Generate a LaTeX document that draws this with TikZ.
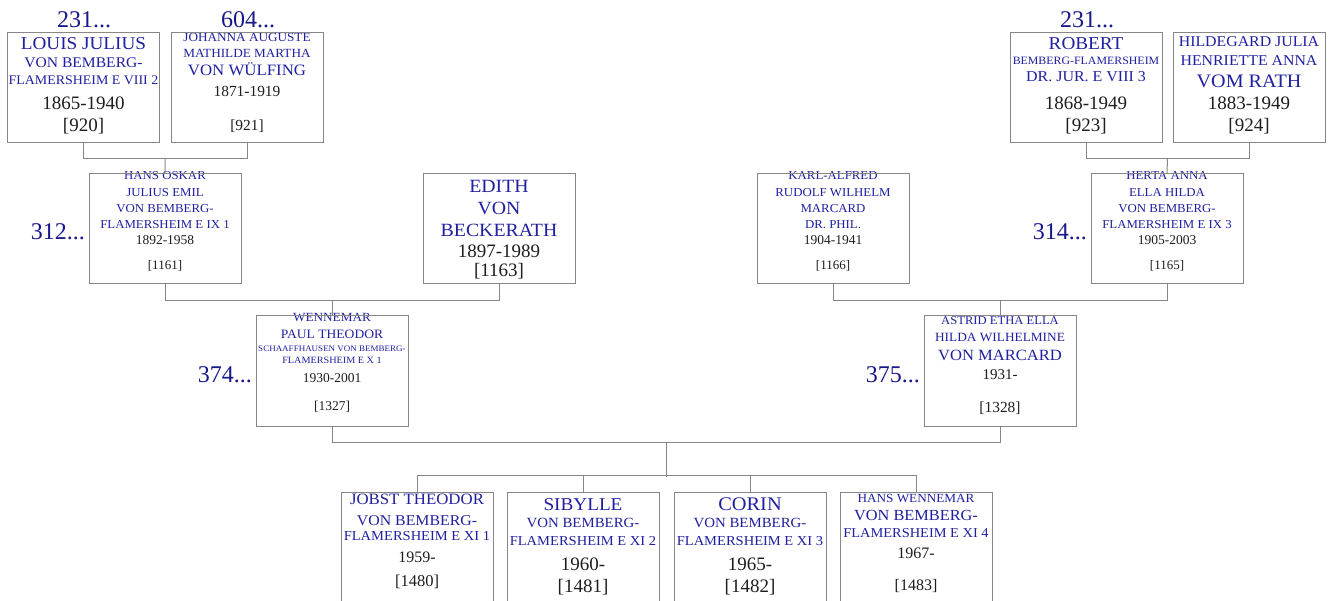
\documentclass[tikz,border=0pt]{standalone}
\usepackage{fontspec}
\usetikzlibrary{calc}
\newfontfamily\capsfont[FakeStretch=1.06,Scale=1.132]{Liberation Serif}
\newfontfamily\numfont{Liberation Serif}
\newcommand\nf[1]{\capsfont\fontsize{#1}{#1}\selectfont}
\newcommand\df[1]{\numfont\fontsize{#1}{#1}\selectfont}
\definecolor{nameblue}{RGB}{32,32,160}
\definecolor{genblue}{RGB}{24,24,140}
\definecolor{datecol}{RGB}{30,30,30}
\definecolor{linegray}{RGB}{135,135,135}
\newcommand\NL[5]{\node[nm,font=\nf{#4}] (#1) at (#2,#3) {#5};}
\newcommand\DL[5]{\node[dt,font=\df{#4}] (#1) at (#2,#3) {#5};}
\begin{document}
\begin{tikzpicture}[x=1pt,y=-1pt,
  box/.style={draw=linegray,line width=1pt,minimum width=152pt,minimum height=110pt,inner sep=0pt},
  conn/.style={draw=linegray,line width=1pt},
  nm/.style={anchor=base,inner sep=0pt,text=nameblue},
  dt/.style={anchor=base,inner sep=0pt,text=datecol},
  gen/.style={anchor=base east,inner sep=0pt,text=genblue,font=\df{24}},
  gentop/.style={anchor=base,inner sep=0pt,text=genblue,font=\df{24}}]
\useasboundingbox[fill=white] (0,0) rectangle (1330,601);

% ---------- texts ----------
% A
\NL{a1}{83.5}{50}{16}{LOUIS JULIUS}
\NL{a2}{83.5}{68}{13}{VON BEMBERG-}
\NL{a3}{83.5}{85}{11.6}{FLAMERSHEIM E VIII 2}
\DL{a4}{83.5}{110}{19}{1865-1940}
\DL{a5}{83.5}{132}{19}{[920]}
% B
\NL{b1}{247}{42}{11}{JOHANNA AUGUSTE}
\NL{b2}{247}{58}{11}{MATHILDE MARTHA}
\NL{b3}{247}{76}{14}{VON WÜLFING}
\DL{b4}{247}{97}{15.4}{1871-1919}
\DL{b5}{247}{131}{15.4}{[921]}
% C
\NL{c1}{1086}{50}{16}{ROBERT}
\NL{c2}{1086}{65}{9.9}{BEMBERG-FLAMERSHEIM}
\NL{c3}{1086}{82}{13.3}{DR. JUR. E VIII 3}
\DL{c4}{1086}{110}{19}{1868-1949}
\DL{c5}{1086}{132}{19}{[923]}
% D
\NL{d1}{1249}{47}{13.2}{HILDEGARD JULIA}
\NL{d2}{1249}{66}{13.2}{HENRIETTE ANNA}
\NL{d3}{1249}{88}{16.8}{VOM RATH}
\DL{d4}{1249}{110}{19}{1883-1949}
\DL{d5}{1249}{132}{19}{[924]}
% Hans
\NL{e1}{165}{180}{10.7}{HANS OSKAR}
\NL{e2}{165}{197}{10.7}{JULIUS EMIL}
\NL{e3}{165}{213}{10.7}{VON BEMBERG-}
\NL{e4}{165}{229}{10.7}{FLAMERSHEIM E IX 1}
\DL{e5}{165}{245}{13.5}{1892-1958}
\DL{e6}{165}{270}{13}{[1161]}
% Edith
\NL{f1}{499}{193}{16.5}{EDITH}
\NL{f2}{499}{215}{16.5}{VON}
\NL{f3}{499}{237}{16.5}{BECKERATH}
\DL{f4}{499}{258}{19}{1897-1989}
\DL{f5}{499}{277}{19}{[1163]}
% Karl
\NL{g1}{833}{180}{10.7}{KARL-ALFRED}
\NL{g2}{833}{197}{10.7}{RUDOLF WILHELM}
\NL{g3}{833}{213}{10.7}{MARCARD}
\NL{g4}{833}{229}{10.7}{DR. PHIL.}
\DL{g5}{833}{245}{13.5}{1904-1941}
\DL{g6}{833}{270}{13}{[1166]}
% Herta
\NL{h1}{1167}{180}{10.7}{HERTA ANNA}
\NL{h2}{1167}{197}{10.7}{ELLA HILDA}
\NL{h3}{1167}{213}{10.7}{VON BEMBERG-}
\NL{h4}{1167}{229}{10.7}{FLAMERSHEIM E IX 3}
\DL{h5}{1167}{245}{13.5}{1905-2003}
\DL{h6}{1167}{270}{13}{[1165]}
% Wennemar
\NL{i1}{332}{322}{11}{WENNEMAR}
\NL{i2}{332}{338}{11.3}{PAUL THEODOR}
\NL{i3}{332}{352}{7.5}{SCHAAFFHAUSEN VON BEMBERG-}
\NL{i4}{332}{363}{8.5}{FLAMERSHEIM E X 1}
\DL{i5}{332}{382}{13.5}{1930-2001}
\DL{i6}{332}{410}{13.5}{[1327]}
% Astrid
\NL{j1}{1000}{325}{10.5}{ASTRID ETHA ELLA}
\NL{j2}{1000}{342}{11.1}{HILDA WILHELMINE}
\NL{j3}{1000}{360}{13.8}{VON MARCARD}
\DL{j4}{1000}{380}{15}{1931-}
\DL{j5}{1000}{412}{15.4}{[1328]}
% Jobst
\NL{k1}{417}{504}{14}{JOBST THEODOR}
\NL{k2}{417}{525}{13.2}{VON BEMBERG-}
\NL{k3}{417}{540}{12.1}{FLAMERSHEIM E XI 1}
\DL{k4}{417}{562}{16}{1959-}
\DL{k5}{417}{586}{16.5}{[1480]}
% Sibylle
\NL{l1}{583}{510}{16}{SIBYLLE}
\NL{l2}{583}{527}{12.4}{VON BEMBERG-}
\NL{l3}{583}{545}{12.1}{FLAMERSHEIM E XI 2}
\DL{l4}{583}{570}{19}{1960-}
\DL{l5}{583}{592}{19}{[1481]}
% Corin
\NL{m1}{750}{510}{17}{CORIN}
\NL{m2}{750}{527}{12.4}{VON BEMBERG-}
\NL{m3}{750}{545}{12.1}{FLAMERSHEIM E XI 3}
\DL{m4}{750}{570}{19}{1965-}
\DL{m5}{750}{592}{19}{[1482]}
% Hans Wennemar
\NL{n1}{916}{502}{11}{HANS WENNEMAR}
\NL{n2}{916}{520}{13.6}{VON BEMBERG-}
\NL{n3}{916}{537}{12}{FLAMERSHEIM E XI 4}
\DL{n4}{916}{558}{16}{1967-}
\DL{n5}{916}{590}{16}{[1483]}

% ---------- generation labels ----------
\node[gentop] (gA) at (84,28) {231...};
\node[gentop] (gB) at (248,28) {604...};
\node[gentop] (gC) at (1087,28) {231...};
\node[gen] (gE) at (85,240) {312...};
\node[gen] (gH) at (1087,240) {314...};
\node[gen] (gI) at (252,382) {374...};
\node[gen] (gJ) at (920,382) {375...};

% ---------- boxes ----------
\node[box] (A) at (83.5,88) {};
\node[box] (B) at (247,88) {};
\node[box] (C) at (1086,88) {};
\node[box] (D) at (1249,88) {};
\node[box] (E) at (165,229) {};
\node[box] (F) at (499,229) {};
\node[box] (G) at (833,229) {};
\node[box] (H) at (1167,229) {};
\node[box] (I) at (332,371) {};
\node[box] (J) at (1000,371) {};
\node[box] (K) at (417,547) {};
\node[box] (L) at (583,547) {};
\node[box] (M) at (750,547) {};
\node[box] (N) at (916,547) {};

% ---------- connectors ----------
\draw[conn] (A.south) -- ++(0,15) -| (B.south);
\coordinate (AB) at ($(A.south)!0.5!(B.south)+(0,15)$);
\draw[conn] (AB) -- (E.north);
\draw[conn] (C.south) -- ++(0,15) -| (D.south);
\coordinate (CD) at ($(C.south)!0.5!(D.south)+(0,15)$);
\draw[conn] (CD) -- (H.north);
\draw[conn] (E.south) -- ++(0,16) -| (F.south);
\coordinate (EF) at ($(E.south)!0.5!(F.south)+(0,16)$);
\draw[conn] (EF) -- (I.north);
\draw[conn] (G.south) -- ++(0,16) -| (H.south);
\coordinate (GH) at ($(G.south)!0.5!(H.south)+(0,16)$);
\draw[conn] (GH) -- (J.north);
\draw[conn] (I.south) -- ++(0,16) -| (J.south);
\coordinate (IJ) at ($(I.south)!0.5!(J.south)+(0,16)$);
\coordinate (KIDS) at ($(IJ)+(0,34)$);
\draw[conn] (IJ) -- (KIDS);
\draw[conn] (K.north) -- ++(0,-16) -| (N.north);
\draw[conn] (L.north) -- ++(0,-16);
\draw[conn] (M.north) -- ++(0,-16);
\end{tikzpicture}
\end{document}
